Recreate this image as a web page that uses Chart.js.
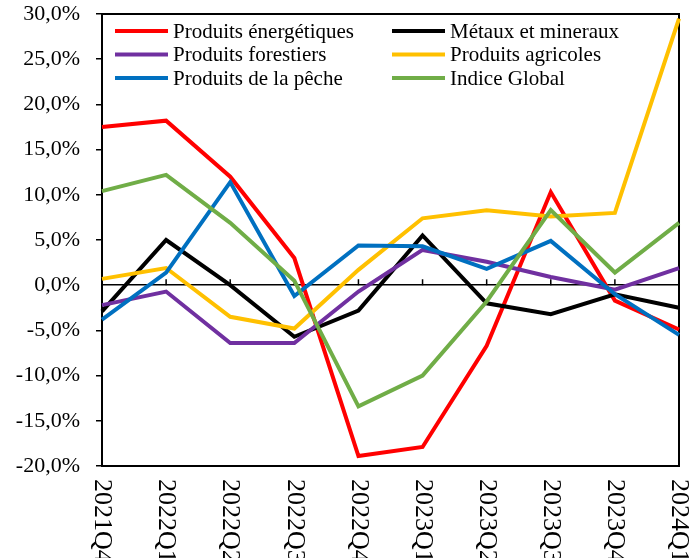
<!DOCTYPE html>
<html>
<head>
<meta charset="utf-8">
<script src="https://cdn.jsdelivr.net/npm/chart.js@4/dist/chart.umd.min.js"></script>
<style>
  html, body { margin: 0; padding: 0; background: #ffffff; }
  #c { display: block; }
</style>
</head>
<body>
<canvas id="c" width="700" height="558"></canvas>
<script>
const categories = ['2021Q4','2022Q1','2022Q2','2022Q3','2022Q4','2023Q1','2023Q2','2023Q3','2023Q4','2024Q1'];
const yTicks = [-20, -15, -10, -5, 0, 5, 10, 15, 20, 25, 30];

const produitsEnergetiques = [17.5, 18.2, 12.0, 3.0, -18.9, -17.9, -6.7, 10.3, -1.7, -4.9];
const metauxMineraux       = [-2.9, 5.0, 0.0, -5.7, -2.8, 5.5, -2.0, -3.2, -1.0, -2.5];
const produitsForestiers   = [-2.2, -0.7, -6.4, -6.4, -0.7, 3.9, 2.6, 0.9, -0.5, 1.9];
const produitsAgricoles    = [0.7, 1.9, -3.5, -4.8, 1.7, 7.4, 8.3, 7.6, 8.0, 29.5];
const produitsPeche        = [-3.8, 1.4, 11.4, -1.2, 4.4, 4.3, 1.8, 4.9, -1.0, -5.5];
const indiceGlobal         = [10.4, 12.2, 6.9, 0.5, -13.4, -10.0, -1.8, 8.3, 1.4, 6.9];

const seriesLabels = ['Produits énergétiques','Métaux et mineraux','Produits forestiers','Produits agricoles','Produits de la pêche','Indice Global'];
const seriesColors = ['#FF0000','#000000','#7030A0','#FFC000','#0070C0','#70AD47'];
const seriesData = [produitsEnergetiques, metauxMineraux, produitsForestiers, produitsAgricoles, produitsPeche, indiceGlobal];

const FONT = '"Liberation Serif", "Times New Roman", serif';

const datasets = seriesData.map((d, i) => ({
  label: seriesLabels[i],
  data: d,
  borderColor: seriesColors[i],
  backgroundColor: seriesColors[i],
  borderWidth: 4,
  pointRadius: 0,
  pointHoverRadius: 0,
  tension: 0,
  fill: false,
  order: seriesData.length - 1 - i
}));

const framePlugin = {
  id: 'frame',
  beforeDatasetsDraw(chart) {
    const {ctx, chartArea: a, scales} = chart;
    ctx.save();
    ctx.strokeStyle = '#000';
    ctx.lineWidth = 2;
    ctx.strokeRect(a.left, a.top, a.right - a.left, a.bottom - a.top);
    const y0 = scales.y.getPixelForValue(0);
    ctx.lineWidth = 1.5;
    ctx.beginPath();
    categories.forEach((c, i) => {
      const x = scales.x.getPixelForValue(i);
      ctx.moveTo(x, y0);
      ctx.lineTo(x, y0 - 6);
    });
    ctx.stroke();
    ctx.restore();
  },
  afterDraw(chart) {
    const {ctx, chartArea: a, scales} = chart;
    ctx.save();
    ctx.fillStyle = '#000';
    ctx.font = '26px ' + FONT;
    ctx.textAlign = 'left';
    ctx.textBaseline = 'middle';
    categories.forEach((c, i) => {
      const x = scales.x.getPixelForValue(i);
      ctx.save();
      ctx.translate(x, a.bottom + 13);
      ctx.rotate(Math.PI / 2);
      ctx.fillText(c, 0, 0);
      ctx.restore();
    });
    ctx.font = '21px ' + FONT;
    ctx.textBaseline = 'middle';
    const colX = [a.left + 13, a.left + 290];
    const rowY = [a.top + 17, a.top + 40.5, a.top + 64];
    chart.data.datasets.forEach((ds, i) => {
      const col = i % 2, row = Math.floor(i / 2);
      const x = colX[col], y = rowY[row];
      ctx.strokeStyle = ds.borderColor;
      ctx.lineWidth = 4;
      ctx.beginPath();
      ctx.moveTo(x, y);
      ctx.lineTo(x + 53, y);
      ctx.stroke();
      ctx.fillStyle = '#000';
      ctx.fillText(ds.label, x + 58, y + 1);
    });
    ctx.restore();
  }
};

new Chart(document.getElementById('c'), {
  type: 'line',
  data: { labels: categories, datasets },
  options: {
    responsive: false,
    animation: false,
    layout: { padding: { top: 14, right: 21, bottom: 92, left: 0 } },
    plugins: { legend: { display: false }, tooltip: { enabled: false } },
    scales: {
      x: { type: 'category', display: false, offset: false },
      y: {
        min: -20, max: 30,
        afterBuildTicks(scale) { scale.ticks = yTicks.map(v => ({ value: v })); },
        afterFit(scale) { scale.width = 102; scale.paddingTop = 0; scale.paddingBottom = 0; },
        ticks: {
          color: '#000',
          font: { family: FONT, size: 22 },
          padding: 16,
          callback: v => v.toFixed(1).replace('.', ',') + '%'
        },
        grid: {
          drawOnChartArea: true,
          color: c => (c.tick && c.tick.value === 0) ? '#000' : 'rgba(0,0,0,0)',
          lineWidth: 1.5,
          tickLength: 6,
          tickColor: c => (c.tick && c.tick.value === 0) ? 'rgba(0,0,0,0)' : '#000',
          tickWidth: 1.5
        },
        border: { display: true, color: '#000', width: 2 }
      }
    }
  },
  plugins: [framePlugin]
});
</script>
</body>
</html>
